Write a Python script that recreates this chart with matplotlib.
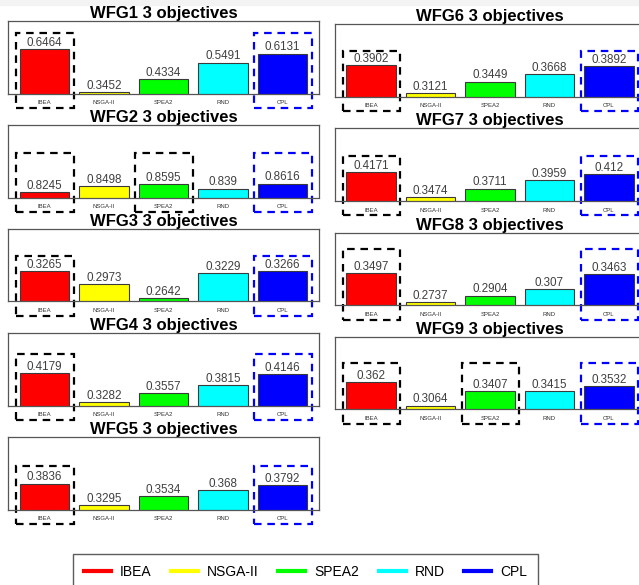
import matplotlib
matplotlib.use('Agg')
import matplotlib.pyplot as plt
from matplotlib.patches import Rectangle
from matplotlib.lines import Line2D

plt.rcParams['font.family'] = ['Liberation Sans', 'DejaVu Sans']

problems = ['WFG1', 'WFG2', 'WFG3', 'WFG4', 'WFG5', 'WFG6', 'WFG7', 'WFG8', 'WFG9']
algorithms = ['IBEA', 'NSGA-II', 'SPEA2', 'RND', 'CPL']
colors = ['#ff0000', '#ffff00', '#00ff00', '#00ffff', '#0000ff']

# hypervolume per algorithm, one entry per problem
ibea = [0.6464, 0.8245, 0.3265, 0.4179, 0.3836, 0.3902, 0.4171, 0.3497, 0.362]
nsga2 = [0.3452, 0.8498, 0.2973, 0.3282, 0.3295, 0.3121, 0.3474, 0.2737, 0.3064]
spea2 = [0.4334, 0.8595, 0.2642, 0.3557, 0.3534, 0.3449, 0.3711, 0.2904, 0.3407]
rnd = [0.5491, 0.839, 0.3229, 0.3815, 0.368, 0.3668, 0.3959, 0.307, 0.3415]
cpl = [0.6131, 0.8616, 0.3266, 0.4146, 0.3792, 0.3892, 0.412, 0.3463, 0.3532]

# algorithms framed with the black dashed box
best = [['IBEA'], ['IBEA', 'SPEA2'], ['IBEA'], ['IBEA'], ['IBEA'],
        ['IBEA'], ['IBEA'], ['IBEA'], ['IBEA', 'SPEA2']]
# top of the dashed boxes (y units of each panel)
box_top = [0.757, 0.996, 0.361, 0.478, 0.427, 0.432, 0.464, 0.411, 0.409]

W, H = 639, 585
fig = plt.figure(figsize=(W / 100, H / 100), dpi=100)
fig.patches.append(Rectangle((0, 1 - 5 / H), 1, 5 / H, transform=fig.transFigure,
                             color='#f3f3f3', zorder=-1))

xs = [0.7 + 1.2 * k for k in range(len(algorithms))]

for i, name in enumerate(problems):
    if i < 5:
        left, top, width = 8, 21 + 104 * i, 311
    else:
        left, top, width = 335, 24 + 104.3 * (i - 5), 310
    height = 72.5
    ax = fig.add_axes([left / W, 1 - (top + height) / H, width / W, height / H])

    vals = [ibea[i], nsga2[i], spea2[i], rnd[i], cpl[i]]
    lo, hi = min(vals) * 0.97, max(vals) * 1.3
    ax.bar(xs, vals, width=1, color=colors, edgecolor='#3a3a3a', linewidth=0.8)
    ax.set_ylim(lo, hi)
    ax.set_xlim(-0.032, 6.232)
    ax.set_yticks([])
    ax.set_xticks(xs, algorithms, fontsize=4.3, color='#333333')
    ax.tick_params(axis='x', length=0, pad=5)
    for s in ax.spines.values():
        s.set_color('#555555')
        s.set_linewidth(0.9)
    ax.set_title(name + ' 3 objectives', fontsize=12, fontweight='bold', pad=1)

    for x, v in zip(xs, vals):
        ax.annotate(f'{v:g}', (x, v), xytext=(0, 0.2), textcoords='offset points',
                    ha='center', va='bottom', fontsize=8.4, color='#404040')

    bottom = lo - 0.2 * (hi - lo)
    framed = [(a, 'black') for a in best[i]] + [('CPL', 'blue')]
    for a, c in framed:
        x = xs[algorithms.index(a)]
        ax.add_patch(Rectangle((x - 0.57, bottom), 1.16, box_top[i] - bottom,
                               fill=False, edgecolor=c, linewidth=1.6,
                               linestyle=(0, (3.4, 2.6)), clip_on=False))

handles = [Line2D([], [], color=c, lw=3) for c in colors]
fig.legend(handles, algorithms, loc='upper left', bbox_to_anchor=(73 / W, 1 - 554 / H),
           ncol=5, fontsize=10, frameon=True, fancybox=False, edgecolor='#333333',
           borderpad=0.8, handlelength=1.94, handletextpad=0.65, columnspacing=1.4,
           borderaxespad=0)

fig.savefig('out.png', dpi=100)
